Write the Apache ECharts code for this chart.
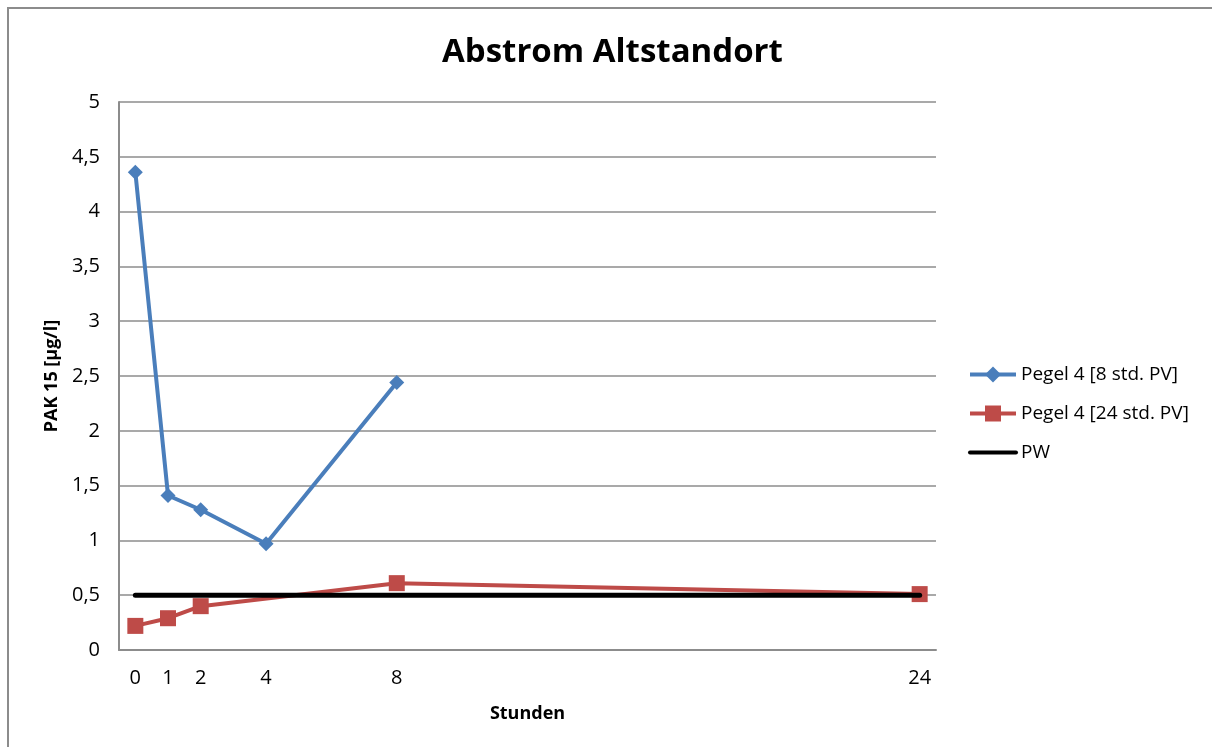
<!DOCTYPE html>
<html>
<head>
<meta charset="utf-8">
<script src="https://cdn.jsdelivr.net/npm/echarts@6/dist/echarts.min.js"></script>
<style>
  html, body { margin: 0; padding: 0; background: #fff; }
  #chart { width: 1212px; height: 747px; }
</style>
</head>
<body>
<div id="chart"></div>
<script>
// Sampling times (hours) and PAK 15 concentrations (µg/l)
const hours8 = [0, 1, 2, 4, 8];
const pegel8 = [4.36, 1.41, 1.28, 0.97, 2.44];
const hours24 = [0, 1, 2, 8, 24];
const pegel24 = [0.22, 0.29, 0.40, 0.61, 0.51];
const pwHours = [0, 24];
const pwValues = [0.5, 0.5];
const xTickLabels = [0, 1, 2, 4, 8, 24];

const seriesNames = ['Pegel 4 [8 std. PV]', 'Pegel 4 [24 std. PV]', 'PW'];
const fontFamily = '"Open Sans", Lato, sans-serif';

const pairs = (xs, ys) => xs.map((x, i) => [x, ys[i]]);

const chart = echarts.init(document.getElementById('chart'));
chart.setOption({
  animation: false,
  backgroundColor: '#fff',
  textStyle: { fontFamily: fontFamily },
  title: {
    text: 'Abstrom Altstandort',
    left: 437,
    top: 31,
    textStyle: { fontSize: 33, fontWeight: 'bold', color: '#000', fontFamily: fontFamily }
  },
  graphic: [{
    type: 'rect',
    shape: { x: 8, y: 8, width: 1240, height: 760 },
    style: { fill: 'none', stroke: '#8c8c8c', lineWidth: 2 },
    silent: true
  }],
  legend: {
    orient: 'vertical',
    left: 968,
    top: 365,
    padding: 0,
    itemWidth: 46,
    itemHeight: 20,
    itemGap: 20,
    lineStyle: { width: 4 },
    textStyle: { fontSize: 19, color: '#000', fontFamily: fontFamily },
    data: [
      { name: seriesNames[0] },
      { name: seriesNames[1] },
      { name: seriesNames[2], itemStyle: { opacity: 0 } }
    ]
  },
  grid: { left: 119, top: 102, width: 817, height: 548, containLabel: false },
  xAxis: {
    type: 'value',
    min: -0.5,
    max: 24.5,
    interval: 0.5,
    name: 'Stunden',
    nameLocation: 'middle',
    nameGap: 55,
    nameTextStyle: { fontSize: 18, fontWeight: 'bold', color: '#000' },
    axisLine: { show: true, onZero: false, lineStyle: { color: '#8c8c8c', width: 2 } },
    axisTick: { show: false },
    splitLine: { show: false },
    axisLabel: {
      customValues: xTickLabels,
      margin: 18,
      fontSize: 20,
      color: '#000'
    }
  },
  yAxis: {
    type: 'value',
    min: 0,
    max: 5,
    interval: 0.5,
    name: 'PAK 15 [µg/l]',
    nameLocation: 'middle',
    nameGap: 58,
    nameRotate: 90,
    nameTextStyle: { fontSize: 18, fontWeight: 'bold', color: '#000' },
    axisLine: { show: true, onZero: false, lineStyle: { color: '#8c8c8c', width: 2 } },
    axisTick: { show: false },
    splitLine: { show: true, lineStyle: { color: '#8c8c8c', width: 1.5 } },
    axisLabel: {
      margin: 19,
      fontSize: 20,
      color: '#000',
      formatter: v => String(v).replace('.', ',')
    }
  },
  series: [
    {
      name: seriesNames[0],
      type: 'line',
      data: pairs(hours8, pegel8),
      symbol: 'diamond',
      symbolSize: 15,
      color: '#4a7ebb',
      lineStyle: { width: 4, color: '#4a7ebb' },
      itemStyle: { color: '#4a7ebb' },
      z: 3
    },
    {
      name: seriesNames[1],
      type: 'line',
      data: pairs(hours24, pegel24),
      symbol: 'rect',
      symbolSize: 16,
      color: '#be4b48',
      lineStyle: { width: 4, color: '#be4b48' },
      itemStyle: { color: '#be4b48' },
      z: 2
    },
    {
      name: seriesNames[2],
      type: 'line',
      data: pairs(pwHours, pwValues),
      symbol: 'none',
      color: '#000',
      lineStyle: { width: 5, color: '#000', cap: 'round' },
      z: 4
    }
  ]
});
</script>
</body>
</html>
